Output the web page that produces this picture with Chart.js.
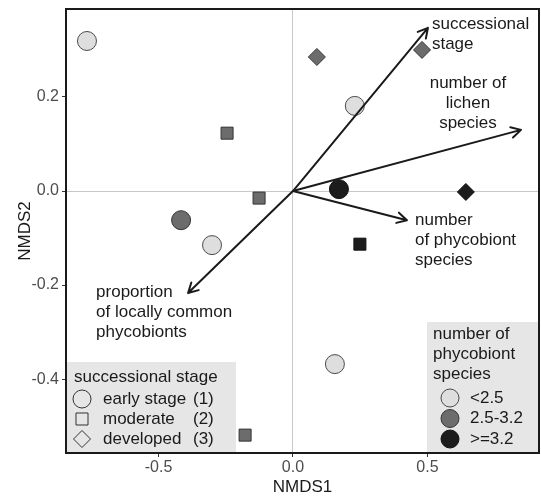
<!DOCTYPE html>
<html>
<head>
<meta charset="utf-8">
<script src="https://cdn.jsdelivr.net/npm/chart.js@4"></script>
<style>
    body { margin: 0; background: #fff; }
</style>
</head>
<body>
<canvas id="nmds" width="541" height="498"></canvas>
<script>

// DATA BEGIN

const nmds1 = [-0.766, -0.245, -0.126, -0.416, -0.301, 0.089, 0.480, 0.230, 0.171, 0.643, 0.249, 0.156, -0.178];
const nmds2 = [0.319, 0.123, -0.015, -0.062, -0.115, 0.285, 0.300, 0.181, 0.004, -0.002, -0.113, -0.368, -0.519];
const stage = [1, 2, 2, 1, 1, 3, 3, 1, 1, 3, 2, 1, 2];          // 1 early, 2 moderate, 3 developed
const phycoGroup = [0, 1, 1, 1, 0, 1, 1, 0, 2, 2, 2, 0, 1];     // 0 <2.5, 1 2.5-3.2, 2 >=3.2

const arrowNames = [
    ['successional', 'stage'],
    ['number of', 'lichen', 'species'],
    ['number', 'of phycobiont', 'species'],
    ['proportion', 'of locally common', 'phycobionts']
];
const arrowX = [0.502, 0.848, 0.424, -0.390];
const arrowY = [0.347, 0.130, -0.062, -0.217];

const xTicks = [-0.5, 0.0, 0.5];
const yTicks = [-0.4, -0.2, 0.0, 0.2];

const stageLabels = ['early stage', 'moderate', 'developed'];
const stageCodes = ['(1)', '(2)', '(3)'];
const phycoLabels = ['<2.5', '2.5-3.2', '>=3.2'];

// DATA END

const FONT = '"Liberation Sans", Arial, sans-serif';
const fills = ['#dedede', '#6c6c6c', '#1c1c1c'];
const strokes = ['#4a4a4a', '#333333', '#111111'];
const shapes = {1: 'circle', 2: 'rect', 3: 'rectRot'};
const radii = {1: 9.5, 2: 8.5, 3: 8.5};

// ARROWS + LEGENDS BEGIN

// where the arrow texts sit, relative to the arrow tip (px)
const labelPlace = [
    {dx: 4, dy: -4, align: 'left'},
    {dx: -53, dy: -47, align: 'center'},
    {dx: 8, dy: 0, align: 'left'},
    {dx: -92, dy: -1, align: 'left'}
];

function drawMarker(ctx, style, x, y, r, fill, stroke)
{
    ctx.save();
    ctx.beginPath();
    if (style === 'circle')
        ctx.arc(x, y, r, 0, Math.PI * 2);
    else if (style === 'rect')
        ctx.rect(x - r * Math.SQRT1_2, y - r * Math.SQRT1_2, r * Math.SQRT2, r * Math.SQRT2);
    else
    {
        ctx.moveTo(x, y - r);
        ctx.lineTo(x + r, y);
        ctx.lineTo(x, y + r);
        ctx.lineTo(x - r, y);
        ctx.closePath();
    }
    ctx.fillStyle = fill;
    ctx.fill();
    ctx.lineWidth = 1;
    ctx.strokeStyle = stroke;
    ctx.stroke();
    ctx.restore();
}

const extras = {
    id: 'extras',
    afterDatasetsDraw(chart)
    {
        let ctx = chart.ctx;
        let xs = chart.scales.x, ys = chart.scales.y;
        let x0 = xs.getPixelForValue(0), y0 = ys.getPixelForValue(0);

        ctx.save();
        ctx.strokeStyle = '#1a1a1a';
        ctx.fillStyle = '#1a1a1a';
        ctx.lineWidth = 2;
        ctx.lineCap = 'round';
        ctx.lineJoin = 'round';
        for (let i = 0; i < arrowX.length; i++)
        {
            let x1 = xs.getPixelForValue(arrowX[i]);
            let y1 = ys.getPixelForValue(arrowY[i]);
            let a = Math.atan2(y1 - y0, x1 - x0);
            ctx.beginPath();
            ctx.moveTo(x0, y0);
            ctx.lineTo(x1, y1);
            ctx.moveTo(x1 - 11 * Math.cos(a - 0.5), y1 - 11 * Math.sin(a - 0.5));
            ctx.lineTo(x1, y1);
            ctx.lineTo(x1 - 11 * Math.cos(a + 0.5), y1 - 11 * Math.sin(a + 0.5));
            ctx.stroke();

            let p = labelPlace[i];
            ctx.font = '17px ' + FONT;
            ctx.textAlign = p.align;
            ctx.textBaseline = 'middle';
            arrowNames[i].forEach(function (line, k)
            {
                ctx.fillText(line, x1 + p.dx, y1 + p.dy + k * 20);
            });
        }
        ctx.restore();
    },
    afterDraw(chart)
    {
        let ctx = chart.ctx;
        let area = chart.chartArea;

        ctx.save();
        ctx.font = '17px ' + FONT;
        ctx.textBaseline = 'middle';
        ctx.textAlign = 'left';

        // successional stage legend
        ctx.fillStyle = '#e6e6e6';
        ctx.fillRect(area.left, 362, 170, area.bottom - 362);
        ctx.fillStyle = '#1a1a1a';
        ctx.fillText('successional stage', 74, 377);
        for (let i = 0; i < stageLabels.length; i++)
        {
            let y = 399 + i * 20;
            drawMarker(ctx, shapes[i + 1], 82, y, i === 0 ? 9 : 8.5, '#e6e6e6', '#333');
            ctx.fillStyle = '#1a1a1a';
            ctx.fillText(stageLabels[i], 103, y);
            ctx.fillText(stageCodes[i], 193, y);
        }

        // phycobiont legend
        ctx.fillStyle = '#e6e6e6';
        ctx.fillRect(427, 322, area.right - 427, area.bottom - 322);
        ctx.fillStyle = '#1a1a1a';
        ['number of', 'phycobiont', 'species'].forEach(function (line, k)
        {
            ctx.fillText(line, 433, 334 + k * 20);
        });
        for (let i = 0; i < phycoLabels.length; i++)
        {
            let y = 398 + i * 20.5;
            drawMarker(ctx, 'circle', 450, y, 9, fills[i], strokes[i]);
            ctx.fillStyle = '#1a1a1a';
            ctx.fillText(phycoLabels[i], 470, y);
        }

        // frame
        ctx.strokeStyle = '#1a1a1a';
        ctx.lineWidth = 2;
        ctx.strokeRect(area.left, area.top, area.right - area.left, area.bottom - area.top);
        ctx.restore();
    }
};

// ARROWS + LEGENDS END

// CHART BEGIN

let points = nmds1.map(function (x, i) { return {x: x, y: nmds2[i]}; });

let zeroGrid = function (c)
{
    return c.tick && c.tick.value === 0 ? '#c8c8c8' : 'rgba(0,0,0,0)';
};

// no extra room for tick labels at the ends, the frame is fixed by layout padding
let noPad = function (s)
{
    s.paddingLeft = 0;
    s.paddingRight = 0;
    s.paddingTop = 0;
    s.paddingBottom = 0;
};

new Chart(document.getElementById('nmds'),
{
    type: 'scatter',
    data: {
        datasets: [{
            data: points,
            pointStyle: stage.map(function (s) { return shapes[s]; }),
            pointRadius: stage.map(function (s) { return radii[s]; }),
            pointHoverRadius: stage.map(function (s) { return radii[s]; }),
            backgroundColor: phycoGroup.map(function (g) { return fills[g]; }),
            borderColor: phycoGroup.map(function (g) { return strokes[g]; }),
            borderWidth: 1
        }]
    },
    options: {
        responsive: false,
        devicePixelRatio: 1,
        animation: false,
        layout: { autoPadding: false, padding: { top: 9, right: 2, bottom: 0, left: 0 } },
        plugins: { legend: { display: false }, tooltip: { enabled: false } },
        scales: {
            x: {
                type: 'linear',
                min: -0.844,
                max: 0.915,
                afterBuildTicks: function (s) { s.ticks = xTicks.map(function (v) { return {value: v}; }); },
                afterFit: function (s) { s.height = 45; noPad(s); },
                grid: { color: zeroGrid, tickColor: '#333', tickLength: 4, lineWidth: 1 },
                border: { display: true, color: '#1a1a1a', width: 2 },
                ticks: {
                    padding: 1,
                    color: '#4d4d4d',
                    font: { family: FONT, size: 16 },
                    callback: function (v) { return v.toFixed(1); }
                },
                title: { display: true, text: 'NMDS1', color: '#1a1a1a', font: { family: FONT, size: 17 }, padding: { top: 0, bottom: 0 } }
            },
            y: {
                type: 'linear',
                min: -0.557,
                max: 0.387,
                afterBuildTicks: function (s) { s.ticks = yTicks.map(function (v) { return {value: v}; }); },
                afterFit: function (s) { s.width = 66; noPad(s); },
                grid: { color: zeroGrid, tickColor: '#333', tickLength: 4, lineWidth: 1 },
                border: { display: true, color: '#1a1a1a', width: 2 },
                ticks: {
                    padding: 3,
                    color: '#4d4d4d',
                    font: { family: FONT, size: 16 },
                    callback: function (v) { return v.toFixed(1); }
                },
                title: { display: true, text: 'NMDS2', color: '#1a1a1a', font: { family: FONT, size: 17 }, padding: { top: 15, bottom: 0 } }
            }
        }
    },
    plugins: [extras]
});

// CHART END

</script>
</body>
</html>
